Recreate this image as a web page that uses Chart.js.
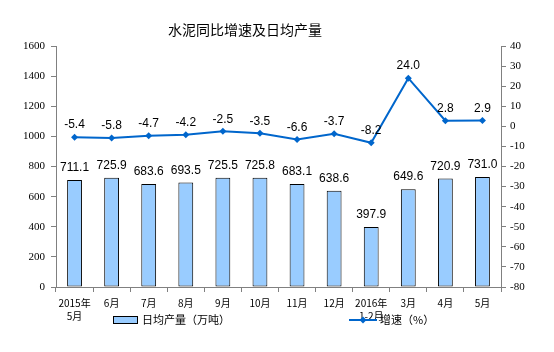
<!DOCTYPE html>
<html>
<head>
<meta charset="utf-8">
<script src="https://cdn.jsdelivr.net/npm/chart.js@4.4.4/dist/chart.umd.min.js"></script>
<style>
  html, body { margin: 0; padding: 0; background: #fff; }
  #wrap { width: 554px; height: 352px; }
</style>
</head>
<body>
<div id="wrap"><canvas id="c" width="554" height="352"></canvas></div>
<script>
// Cement: YoY growth (%) and daily output (10k tonnes)
const categories = [
  ['2015年', '5月'], '6月', '7月', '8月', '9月', '10月', '11月', '12月',
  ['2016年', '1-2月'], '3月', '4月', '5月'
];
const dailyOutput = [711.1, 725.9, 683.6, 693.5, 725.5, 725.8, 683.1, 638.6, 397.9, 649.6, 720.9, 731.0];
const growthRate = [-5.4, -5.8, -4.7, -4.2, -2.5, -3.5, -6.6, -3.7, -8.2, 24.0, 2.8, 2.9];
const leftTicks = [0, 200, 400, 600, 800, 1000, 1200, 1400, 1600];
const rightTicks = [-80, -70, -60, -50, -40, -30, -20, -10, 0, 10, 20, 30, 40];

const TITLE = '水泥同比增速及日均产量';
const BAR_LABEL = '日均产量（万吨）';
const LINE_LABEL = '增速（%）';

const barFill = '#99CCFF';
const lineBlue = '#0066CC';
const axisGray = '#808080';
const cjk = '"Noto Sans CJK SC", "Noto Sans", sans-serif';

// value labels above bars and points, plus title and legend
const decorations = {
  id: 'decorations',
  afterDatasetsDraw(chart) {
    const ctx = chart.ctx;
    ctx.save();
    ctx.font = '12px "Liberation Sans", Arial, sans-serif';
    ctx.fillStyle = '#000';
    ctx.textAlign = 'center';
    ctx.textBaseline = 'middle';
    chart.getDatasetMeta(0).data.forEach((bar, i) => {
      ctx.fillText(dailyOutput[i].toFixed(1), bar.x, bar.y - 12);
    });
    chart.getDatasetMeta(1).data.forEach((pt, i) => {
      ctx.fillText(growthRate[i].toFixed(1), pt.x, pt.y - 12);
    });
    ctx.restore();
  },
  afterDraw(chart) {
    const ctx = chart.ctx;
    ctx.save();
    ctx.fillStyle = '#000';
    ctx.textBaseline = 'middle';
    ctx.textAlign = 'center';
    ctx.font = '14px ' + cjk;
    ctx.fillText(TITLE, 245, 30);

    // legend: bar swatch
    ctx.textAlign = 'left';
    ctx.font = '11px ' + cjk;
    ctx.fillStyle = barFill;
    ctx.fillRect(113, 316.5, 24, 7);
    ctx.strokeStyle = '#000';
    ctx.lineWidth = 1;
    ctx.strokeRect(113.5, 316.5, 24, 7);
    ctx.fillStyle = '#000';
    ctx.fillText(BAR_LABEL, 142, 320);

    // legend: line + diamond
    ctx.strokeStyle = lineBlue;
    ctx.lineWidth = 2;
    ctx.beginPath();
    ctx.moveTo(349, 320);
    ctx.lineTo(377, 320);
    ctx.stroke();
    ctx.fillStyle = lineBlue;
    ctx.beginPath();
    ctx.moveTo(363, 316.5);
    ctx.lineTo(366.5, 320);
    ctx.lineTo(363, 323.5);
    ctx.lineTo(359.5, 320);
    ctx.closePath();
    ctx.fill();
    ctx.fillStyle = '#000';
    ctx.fillText(LINE_LABEL, 380, 320);
    ctx.restore();
  }
};

new Chart(document.getElementById('c'), {
  type: 'bar',
  data: {
    labels: categories,
    datasets: [
      {
        type: 'bar',
        label: BAR_LABEL,
        data: dailyOutput,
        yAxisID: 'y',
        backgroundColor: barFill,
        borderColor: '#000',
        borderWidth: 1,
        borderSkipped: false,
        barPercentage: 0.4,
        categoryPercentage: 1.0,
        order: 2
      },
      {
        type: 'line',
        label: LINE_LABEL,
        data: growthRate,
        yAxisID: 'y1',
        borderColor: lineBlue,
        backgroundColor: lineBlue,
        borderWidth: 2,
        pointStyle: 'rectRot',
        pointRadius: 3.5,
        pointBorderWidth: 0,
        tension: 0,
        order: 1
      }
    ]
  },
  options: {
    responsive: false,
    animation: false,
    layout: { padding: { top: 46, left: 0, right: 0, bottom: 0 } },
    plugins: {
      legend: { display: false },
      title: { display: false },
      tooltip: { enabled: false }
    },
    scales: {
      x: {
        grid: { drawOnChartArea: false, drawTicks: true, tickLength: 5, color: axisGray, offset: true },
        border: { color: axisGray, width: 1 },
        ticks: {
          color: '#000',
          font: { family: cjk, size: 10, lineHeight: 1.3 },
          padding: 5,
          maxRotation: 0,
          autoSkip: false
        },
        afterFit(scale) { scale.height = 65; }
      },
      y: {
        position: 'left',
        min: 0,
        max: 1600,
        afterBuildTicks(scale) { scale.ticks = leftTicks.map(v => ({ value: v })); },
        grid: { drawOnChartArea: false, drawTicks: true, tickLength: 5, color: axisGray },
        border: { color: axisGray, width: 1 },
        ticks: {
          color: '#000',
          font: { family: '"Liberation Serif", serif', size: 11 },
          padding: 6,
          callback: v => String(v)
        },
        afterFit(scale) { scale.width = 56; }
      },
      y1: {
        position: 'right',
        min: -80,
        max: 40,
        afterBuildTicks(scale) { scale.ticks = rightTicks.map(v => ({ value: v })); },
        grid: { drawOnChartArea: false, drawTicks: true, tickLength: 5, color: axisGray },
        border: { color: axisGray, width: 1 },
        ticks: {
          color: '#000',
          font: { family: '"Liberation Serif", serif', size: 11 },
          padding: 4,
          callback: v => String(v)
        },
        afterFit(scale) { scale.width = 53; }
      }
    }
  },
  plugins: [decorations]
});
</script>
</body>
</html>
